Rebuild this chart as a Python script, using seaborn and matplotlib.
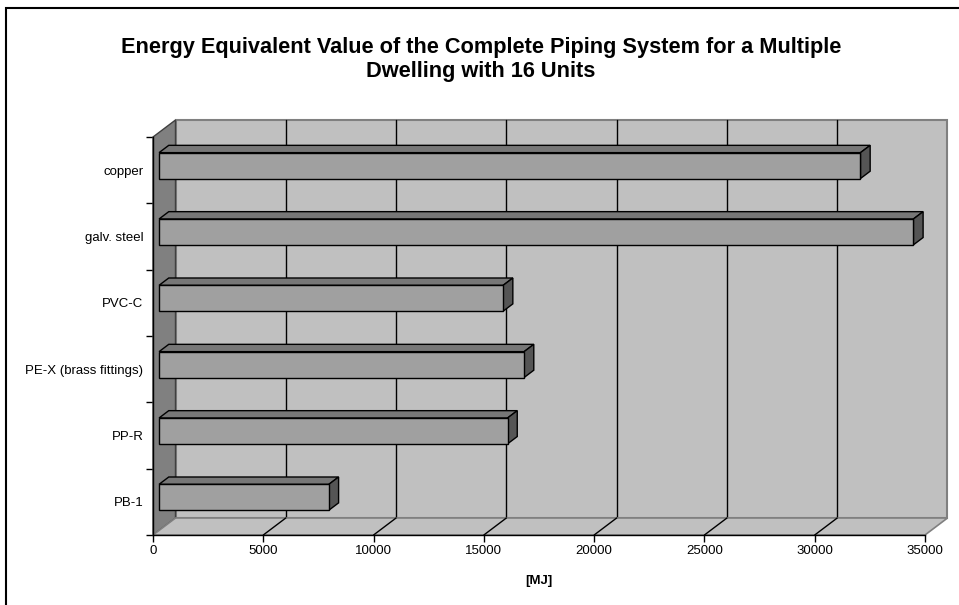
import numpy as np
import pandas as pd
import matplotlib
matplotlib.use("Agg")
import matplotlib.pyplot as plt
import seaborn as sns
from matplotlib.patches import Polygon, Rectangle
from matplotlib.lines import Line2D
from matplotlib.transforms import IdentityTransform, ScaledTranslation

# ---- data ----
categories = ["copper", "galv. steel", "PVC-C", "PE-X (brass fittings)", "PP-R", "PB-1"]
values = [31800, 34200, 15600, 16550, 15800, 7700]
x_ticks = [0, 5000, 10000, 15000, 20000, 25000, 30000, 35000]
title = "Energy Equivalent Value of the Complete Piping System for a Multiple\nDwelling with 16 Units"
x_label = "[MJ]"

sns.set_theme(style="white")
plt.rcParams["font.family"] = ["Liberation Sans", "DejaVu Sans"]
plt.rcParams["text.color"] = "black"

W, H = 959, 605
fig = plt.figure(figsize=(W / 100, H / 100), dpi=100)
fig.patch.set_facecolor("white")
ax = fig.add_axes([153 / W, 70 / H, 772 / W, 398 / H])
ax.set_facecolor("none")

df = pd.DataFrame({"material": categories, "energy": values})
sns.barplot(data=df, x="energy", y="material", orient="h", width=0.39,
            color="#A0A0A0", saturation=1, edgecolor="black", linewidth=1,
            ax=ax, zorder=6)
bars = list(ax.patches)

ax.set_xlim(x_ticks[0], x_ticks[-1])
ax.set_ylim(len(categories) - 0.5, -0.5)

# depth of the 3-D box in pixels (right, up)
DX, DY = 22.5, 17.0
F1, F2 = 0.27, 0.70  # bar front / back depth fractions
ident = IdentityTransform()


def disp(x, y, f):
    p = ax.transData.transform((x, y))
    return (p[0] + f * DX, p[1] + f * DY)


xmin, xmax = x_ticks[0], x_ticks[-1]
ytop, ybot = -0.5, len(categories) - 0.5

# back wall
ax.add_patch(Polygon([disp(xmin, ytop, 1), disp(xmax, ytop, 1), disp(xmax, ybot, 1), disp(xmin, ybot, 1)],
                     closed=True, fc="#C0C0C0", ec="#808080", lw=1.5, transform=ident,
                     clip_on=False, zorder=0.5))
for xv in x_ticks[1:-1]:
    a, b = disp(xv, ytop, 1), disp(xv, ybot, 1)
    ax.add_line(Line2D([a[0], b[0]], [a[1], b[1]], color="black", lw=1, transform=ident,
                       clip_on=False, zorder=1))
# side wall
ax.add_patch(Polygon([disp(xmin, ytop, 0), disp(xmin, ytop, 1), disp(xmin, ybot, 1), disp(xmin, ybot, 0)],
                     closed=True, fc="#808080", ec="#404040", lw=1, transform=ident,
                     clip_on=False, zorder=1.5))
# floor
ax.add_patch(Polygon([disp(xmin, ybot, 0), disp(xmax, ybot, 0), disp(xmax, ybot, 1), disp(xmin, ybot, 1)],
                     closed=True, fc="#C0C0C0", ec="#808080", lw=1.2, transform=ident,
                     clip_on=False, zorder=1.5))
for xv in x_ticks[1:-1]:
    a, b = disp(xv, ybot, 0), disp(xv, ybot, 1)
    ax.add_line(Line2D([a[0], b[0]], [a[1], b[1]], color="black", lw=1, transform=ident,
                       clip_on=False, zorder=2))

# 3-D bars
front_tr = ax.transData + ScaledTranslation(F1 * DX / 100, F1 * DY / 100, fig.dpi_scale_trans)
for p in bars:
    x0, y0 = p.get_x(), p.get_y()
    x1, y1 = x0 + p.get_width(), y0 + p.get_height()
    yt = min(y0, y1)
    yb = max(y0, y1)
    p.set_transform(front_tr)
    p.set_clip_on(False)
    ax.add_patch(Polygon([disp(x0, yt, F1), disp(x1, yt, F1), disp(x1, yt, F2), disp(x0, yt, F2)],
                         closed=True, fc="#777777", ec="black", lw=1, transform=ident,
                         clip_on=False, zorder=5))
    ax.add_patch(Polygon([disp(x1, yt, F1), disp(x1, yb, F1), disp(x1, yb, F2), disp(x1, yt, F2)],
                         closed=True, fc="#555555", ec="black", lw=1, transform=ident,
                         clip_on=False, zorder=5))

# axes styling
for s in ["top", "right"]:
    ax.spines[s].set_visible(False)
for s in ["left", "bottom"]:
    ax.spines[s].set_color("black")
    ax.spines[s].set_linewidth(1)
    ax.spines[s].set_zorder(7)

ax.set_xticks(x_ticks)
ax.set_xticklabels([str(v) for v in x_ticks])
ax.set_yticks(np.arange(-0.5, len(categories), 1.0))
ax.set_yticklabels([])
ax.set_yticks(range(len(categories)), minor=True)
ax.set_yticklabels(categories, minor=True)
ax.tick_params(axis="x", which="major", bottom=True, length=5, width=1, color="black",
               direction="out", pad=2.5, labelsize=9.5, labelcolor="black")
ax.tick_params(axis="y", which="major", left=True, length=5, width=1, color="black",
               direction="out")
ax.tick_params(axis="y", which="minor", left=True, length=0, pad=7, labelsize=9.5,
               labelcolor="black")
ax.set_ylabel("")
ax.set_xlabel(x_label, fontsize=9.5, fontweight="bold", color="black", labelpad=13)

fig.text(481 / W, 1 - 59.5 / H, title, ha="center", va="center", fontsize=15.7,
         fontweight="bold", color="black", linespacing=1.13)

# chart frame
fig.patches.append(Rectangle((6 / W, -0.2), 1.2, (H - 8) / H + 0.2, transform=fig.transFigure,
                             fill=False, ec="black", lw=1.5, zorder=10))

fig.savefig("out.png", dpi=100)
